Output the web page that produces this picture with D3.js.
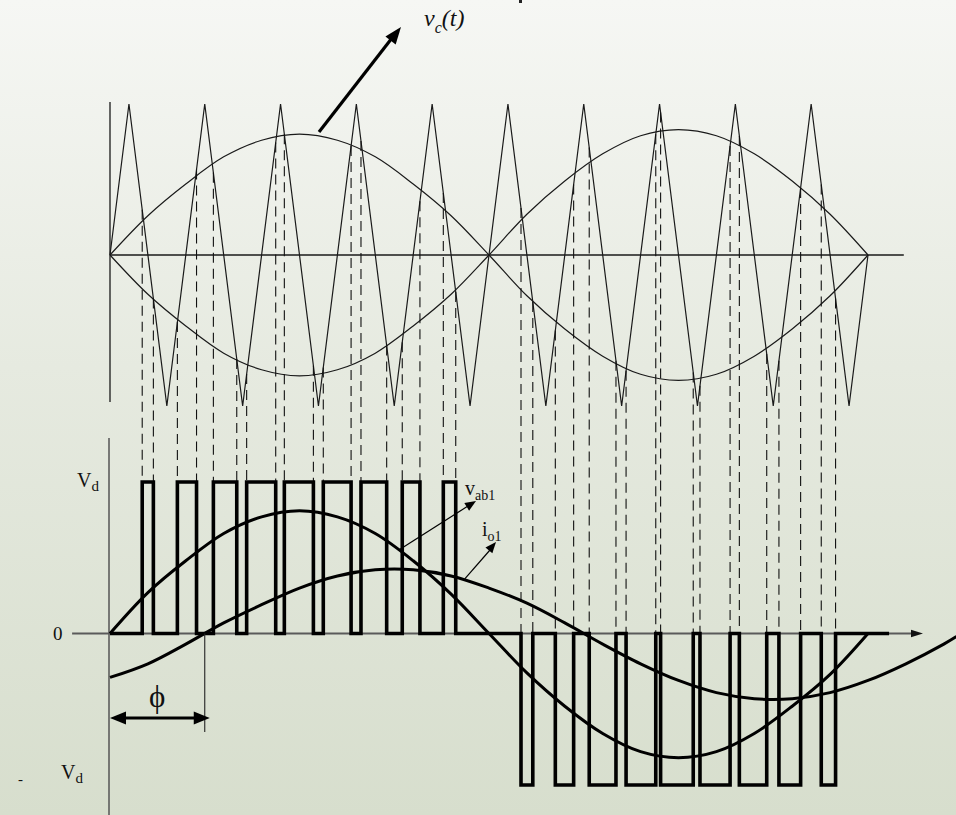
<!DOCTYPE html>
<html>
<head>
<meta charset="utf-8">
<script src="https://cdn.jsdelivr.net/npm/d3@7"></script>
<style>
  html, body { margin: 0; padding: 0; }
  svg { display: block; }
</style>
</head>
<body>
<svg id="chart" width="956" height="815"></svg>
<script>
// ---- Data (angles in degrees of the fundamental, amplitudes normalised) ----

// Triangular carrier vertices
const carrierDeg = [0, 9, 27, 45, 63, 81, 99, 117, 135, 153, 171, 189, 207, 225, 243, 261, 279, 297, 315, 333, 351, 360];
const carrierVal = [0, 1, -1, 1, -1, 1, -1, 1, -1, 1, -1, 1, -1, 1, -1, 1, -1, 1, -1, 1, -1, 0];

// Control signal v_c(t) (its mirror -v_c is drawn too)
const controlDeg = [0, 18, 36, 54, 72, 90, 108, 126, 144, 162, 180, 198, 216, 234, 252, 270, 288, 306, 324, 342, 360];
const controlVal = [0, 0.26, 0.47, 0.65, 0.76, 0.80, 0.76, 0.65, 0.47, 0.26, 0, -0.27, -0.49, -0.67, -0.79, -0.83, -0.79, -0.67, -0.49, -0.27, 0];

// Output pulses of v_ab: start angle, end angle, level (+1 = Vd, -1 = -Vd)
const pulseStart = [15.3, 32.0, 49.1, 64.9, 82.8, 101.3, 119.2, 138.8, 158.3,
                    195.2, 211.5, 227.6, 245.1, 261.5, 280.2, 298.9, 317.7, 337.8];
const pulseEnd   = [20.6, 41.1, 60.2, 78.7, 96.6, 114.5, 131.4, 147.2, 164.2,
                    200.8, 220.2, 240.3, 259.2, 277.0, 294.5, 311.9, 328.0, 344.6];
const pulseLevel = [1, 1, 1, 1, 1, 1, 1, 1, 1,
                    -1, -1, -1, -1, -1, -1, -1, -1, -1];
const vabEndDeg = 370;

// Fundamental of the output voltage, v_ab1
const vab1Deg = [0, 18, 36, 54, 72, 90, 108, 126, 144, 162, 180, 198, 216, 234, 252, 270, 288, 306, 324, 342, 360];
const vab1Val = [0, 0.27, 0.48, 0.66, 0.77, 0.81, 0.77, 0.66, 0.48, 0.26, 0, -0.26, -0.48, -0.66, -0.78, -0.82, -0.78, -0.66, -0.48, -0.27, 0];

// Fundamental of the output current, i_o1 (lags by phi)
const io1Deg = [0, 18, 36, 54, 72, 90, 108, 126, 144, 162, 180, 198, 216, 234, 252, 270, 288, 306, 324, 342, 360, 378, 396, 402];
const io1Val = [-0.29, -0.20, -0.07, 0.07, 0.19, 0.30, 0.38, 0.42, 0.42, 0.38, 0.30, 0.20, 0.07, -0.07, -0.20, -0.31, -0.39, -0.43, -0.43, -0.39, -0.31, -0.20, -0.07, -0.02];
const phiDeg = 45;

// ---- Scales ----
const svg = d3.select("#chart");
const x = d3.scaleLinear().domain([0, 360]).range([110, 868]);
const yTop = d3.scaleLinear().domain([-1, 1]).range([406, 104]);
const yBot = d3.scaleLinear().domain([-1, 1]).range([785, 482]);

// ---- Background ----
const defs = svg.append("defs");
const grad = defs.append("linearGradient").attr("id", "bg")
  .attr("x1", 0).attr("y1", 0).attr("x2", 0).attr("y2", 1);
grad.append("stop").attr("offset", "0%").attr("stop-color", "#f6f7f4");
grad.append("stop").attr("offset", "45%").attr("stop-color", "#e6eae0");
grad.append("stop").attr("offset", "100%").attr("stop-color", "#d7decd");
svg.append("rect").attr("width", 956).attr("height", 815).attr("fill", "url(#bg)");
svg.append("rect").attr("x", 519).attr("y", 0).attr("width", 3).attr("height", 3).attr("fill", "#222");

// filled arrow head at (x2,y2) pointing away from (x1,y1)
function arrowHead(g, x1, y1, x2, y2, len, half, color) {
  const a = Math.atan2(y2 - y1, x2 - x1);
  const bx = x2 - len * Math.cos(a), by = y2 - len * Math.sin(a);
  const px = -Math.sin(a) * half, py = Math.cos(a) * half;
  g.append("path")
    .attr("d", `M${x2},${y2}L${bx + px},${by + py}L${bx - px},${by - py}Z`)
    .attr("fill", color);
}

// carrier value at an angle (linear between vertices)
const carrierAt = d3.scaleLinear().domain(carrierDeg).range(carrierVal);

// ---- Top panel: carrier and control signals ----
const topPanel = svg.append("g");
topPanel.append("line").attr("x1", x(0)).attr("x2", x(0)).attr("y1", 102).attr("y2", 402)
  .attr("stroke", "#1a1a1a").attr("stroke-width", 1.3);
topPanel.append("line").attr("x1", x(0)).attr("x2", x(377)).attr("y1", yTop(0)).attr("y2", yTop(0))
  .attr("stroke", "#1a1a1a").attr("stroke-width", 1.3);

const carrierLine = d3.line().x((d, i) => x(carrierDeg[i])).y(d => yTop(d));
topPanel.append("path").attr("d", carrierLine(carrierVal))
  .attr("fill", "none").attr("stroke", "#1a1a1a").attr("stroke-width", 1.2);

const controlLine = d3.line().x((d, i) => x(controlDeg[i])).y(d => yTop(d)).curve(d3.curveCatmullRom);
topPanel.append("path").attr("d", controlLine(controlVal))
  .attr("fill", "none").attr("stroke", "#1a1a1a").attr("stroke-width", 1.2);
topPanel.append("path").attr("d", controlLine(controlVal.map(v => -v)))
  .attr("fill", "none").attr("stroke", "#1a1a1a").attr("stroke-width", 1.2);

// ---- Dashed projections from the intersections down to the pulses ----
const dash = svg.append("g");
pulseStart.forEach((s, i) => {
  [s, pulseEnd[i]].forEach(a => {
    dash.append("line")
      .attr("x1", x(a)).attr("x2", x(a))
      .attr("y1", yTop(carrierAt(a)))
      .attr("y2", pulseLevel[i] > 0 ? yBot(1) : yBot(0))
      .attr("stroke", "#111").attr("stroke-width", 1.1)
      .attr("stroke-dasharray", "10,6");
  });
});

// ---- Bottom panel axes ----
const bot = svg.append("g");
bot.append("line").attr("x1", 109).attr("x2", 109).attr("y1", 438).attr("y2", 815)
  .attr("stroke", "#555").attr("stroke-width", 1.5);
bot.append("line").attr("x1", x(-18)).attr("x2", 915).attr("y1", yBot(0)).attr("y2", yBot(0))
  .attr("stroke", "#5a5a5a").attr("stroke-width", 1.8);
arrowHead(bot, 900, yBot(0), 923, yBot(0), 12, 3.8, "#111");

// ---- v_ab pulse train ----
const vabPts = [[0, 0]];
pulseStart.forEach((s, i) => {
  const e = pulseEnd[i], l = pulseLevel[i];
  vabPts.push([s, 0], [s, l], [e, l], [e, 0]);
});
vabPts.push([vabEndDeg, 0]);
bot.append("path")
  .attr("d", d3.line().x(d => x(d[0])).y(d => yBot(d[1]))(vabPts))
  .attr("fill", "none").attr("stroke", "#000").attr("stroke-width", 3.6)
  .attr("stroke-linejoin", "miter");

// ---- Fundamentals ----
const vab1Line = d3.line().x((d, i) => x(vab1Deg[i])).y(d => yBot(d)).curve(d3.curveCatmullRom);
bot.append("path").attr("d", vab1Line(vab1Val))
  .attr("fill", "none").attr("stroke", "#000").attr("stroke-width", 3);
const io1Line = d3.line().x((d, i) => x(io1Deg[i])).y(d => yBot(d)).curve(d3.curveCatmullRom);
bot.append("path").attr("d", io1Line(io1Val))
  .attr("fill", "none").attr("stroke", "#000").attr("stroke-width", 3);

// ---- Phase angle marker ----
bot.append("line").attr("x1", x(phiDeg)).attr("x2", x(phiDeg)).attr("y1", yBot(0)).attr("y2", 732)
  .attr("stroke", "#222").attr("stroke-width", 1.1);
bot.append("line").attr("x1", x(0) + 10).attr("x2", x(phiDeg) - 5).attr("y1", 718).attr("y2", 718)
  .attr("stroke", "#000").attr("stroke-width", 3.2);
arrowHead(bot, x(phiDeg), 718, x(0), 718, 16, 6.5, "#000");
arrowHead(bot, x(0), 718, x(phiDeg) + 5, 718, 16, 6.5, "#000");

// ---- Annotations ----
const serif = "'Liberation Serif', 'Times New Roman', serif";

// v_c(t) pointer
const ann = svg.append("g");
ann.append("line").attr("x1", 319).attr("y1", 132).attr("x2", 392).attr("y2", 38)
  .attr("stroke", "#000").attr("stroke-width", 3.2);
arrowHead(ann, 319, 132, 401, 27, 17, 6.5, "#000");
const vc = ann.append("text").attr("x", 424).attr("y", 26)
  .attr("font-family", serif).attr("font-style", "italic").attr("font-size", 24).attr("fill", "#111");
vc.append("tspan").text("v");
vc.append("tspan").attr("dy", 7).attr("font-size", 16).text("c");
vc.append("tspan").attr("dy", -7).text("(t)");

// v_ab1 pointer
const vabA = [x(137), yBot(0.55)];
ann.append("line").attr("x1", vabA[0]).attr("y1", vabA[1]).attr("x2", 468).attr("y2", 506)
  .attr("stroke", "#000").attr("stroke-width", 1.2);
arrowHead(ann, vabA[0], vabA[1], 476, 501, 11, 4.5, "#000");
const vt = ann.append("text").attr("x", 465).attr("y", 495)
  .attr("font-family", serif).attr("font-size", 20).attr("fill", "#111");
vt.append("tspan").text("v");
vt.append("tspan").attr("dy", 5).attr("font-size", 14).text("ab1");

// i_o1 pointer
const ioA = [x(168.5), yBot(0.36)];
ann.append("line").attr("x1", ioA[0]).attr("y1", ioA[1]).attr("x2", 490).attr("y2", 550)
  .attr("stroke", "#000").attr("stroke-width", 1.2);
arrowHead(ann, ioA[0], ioA[1], 496, 542, 11, 4.5, "#000");
const it = ann.append("text").attr("x", 482).attr("y", 536)
  .attr("font-family", serif).attr("font-size", 20).attr("fill", "#111");
it.append("tspan").text("i");
it.append("tspan").attr("dy", 5).attr("font-size", 14).text("o1");

// Level labels
const vd = ann.append("text").attr("x", 77).attr("y", 487)
  .attr("font-family", serif).attr("font-size", 20).attr("fill", "#111");
vd.append("tspan").text("V");
vd.append("tspan").attr("dy", 4).attr("font-size", 15).text("d");

ann.append("text").attr("x", 53).attr("y", 640)
  .attr("font-family", serif).attr("font-size", 19).attr("fill", "#111").text("0");

ann.append("text").attr("x", 18).attr("y", 784)
  .attr("font-family", serif).attr("font-size", 15).attr("fill", "#111").text("-");
const vdn = ann.append("text").attr("x", 61).attr("y", 779)
  .attr("font-family", serif).attr("font-size", 20).attr("fill", "#111");
vdn.append("tspan").text("V");
vdn.append("tspan").attr("dy", 4).attr("font-size", 15).text("d");

ann.append("text").attr("x", 149).attr("y", 707)
  .attr("font-family", serif).attr("font-size", 31).attr("fill", "#111").text("\u03D5");
</script>
</body>
</html>
